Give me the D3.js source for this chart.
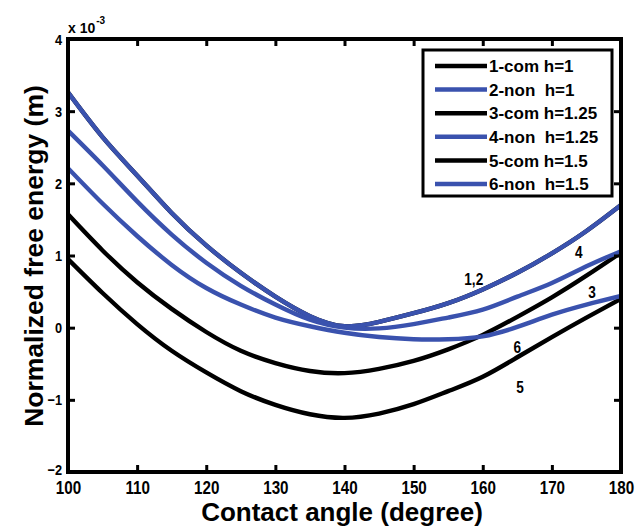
<!DOCTYPE html>
<html>
<head>
<meta charset="utf-8">
<script src="https://cdn.jsdelivr.net/npm/d3@7"></script>
<style>
  html, body { margin: 0; padding: 0; background: #fff; }
  svg { display: block; }
  text { white-space: pre; }
</style>
</head>
<body>
<script>
// ---------- data ----------
const angles = [100,105,110,115,120,125,130,135,140,145,150,155,160,165,170,175,180];
const s1_com_h1    = [3.26,2.64,2.11,1.59,1.14,0.76,0.43,0.16,0.02,0.08,0.20,0.34,0.53,0.76,1.03,1.34,1.70];
const s2_non_h1    = [3.26,2.64,2.11,1.59,1.14,0.76,0.43,0.16,0.02,0.08,0.20,0.34,0.53,0.76,1.03,1.34,1.70];
const s3_com_h125  = [1.57,1.07,0.63,0.26,-0.06,-0.32,-0.49,-0.60,-0.63,-0.57,-0.46,-0.30,-0.10,0.15,0.42,0.72,1.04];
const s4_non_h125  = [2.73,2.25,1.75,1.29,0.90,0.58,0.32,0.11,0.00,-0.01,0.05,0.14,0.25,0.43,0.62,0.85,1.06];
const s5_com_h15   = [0.95,0.48,0.05,-0.32,-0.62,-0.88,-1.07,-1.20,-1.25,-1.19,-1.06,-0.88,-0.68,-0.41,-0.13,0.14,0.40];
const s6_non_h15   = [2.21,1.72,1.27,0.87,0.55,0.32,0.14,0.02,-0.07,-0.13,-0.16,-0.16,-0.12,0.01,0.18,0.32,0.44];

const seriesNames  = ["1-com h=1","2-non  h=1","3-com h=1.25","4-non  h=1.25","5-com h=1.5","6-non  h=1.5"];
const seriesValues = [s1_com_h1, s2_non_h1, s3_com_h125, s4_non_h125, s5_com_h15, s6_non_h15];
const seriesColors = ["#000000","#3a52ae","#000000","#3a52ae","#000000","#3a52ae"];

const xTicks = [100,110,120,130,140,150,160,170,180];
const yTicks = [-2,-1,0,1,2,3,4];

const curveLabels = [
  {text:"1,2", a:158.7, v:0.59},
  {text:"4",   a:173.9, v:0.965},
  {text:"3",   a:175.8, v:0.41},
  {text:"6",   a:165.0, v:-0.35},
  {text:"5",   a:165.4, v:-0.90}
];

// ---------- layout ----------
const W = 636, H = 527;
const L = 68, R = 621, T = 39, B = 472;

const svg = d3.select("body").append("svg").attr("width", W).attr("height", H);

const x = d3.scaleLinear().domain([100,180]).range([L,R]);
const y = d3.scaleLinear().domain([-2,4]).range([B,T]);

svg.append("defs").append("clipPath").attr("id","clip")
  .append("rect").attr("x",L).attr("y",T).attr("width",R-L).attr("height",B-T);

// curves
const line = d3.line().x((d,i)=>x(angles[i])).y(d=>y(d)).curve(d3.curveNatural);
const g = svg.append("g").attr("clip-path","url(#clip)");
seriesValues.forEach((vals,i)=>{
  g.append("path").datum(vals).attr("d",line)
    .attr("fill","none").attr("stroke",seriesColors[i]).attr("stroke-width",4.4)
    .attr("stroke-linejoin","round");
});

// axes (ticks inward on all sides)
const font = "'Liberation Sans',Arial,sans-serif";
const axB = svg.append("g").attr("transform",`translate(0,${B})`)
  .call(d3.axisBottom(x).tickValues(xTicks).tickSize(-7).tickPadding(10).tickFormat(d3.format("d")));
const axT = svg.append("g").attr("transform",`translate(0,${T})`)
  .call(d3.axisTop(x).tickValues(xTicks).tickSize(-7).tickFormat(""));
const axL = svg.append("g").attr("transform",`translate(${L},0)`)
  .call(d3.axisLeft(y).tickValues(yTicks).tickSize(-7).tickPadding(6).tickFormat(d3.format("d")));
const axR = svg.append("g").attr("transform",`translate(${R},0)`)
  .call(d3.axisRight(y).tickValues(yTicks).tickSize(-7).tickFormat(""));

[axB,axT,axL,axR].forEach(a=>{
  a.select(".domain").remove();
  a.selectAll(".tick line").attr("stroke","#000").attr("stroke-width",3);
});
axB.selectAll(".tick text").attr("font-family",font).attr("font-weight","bold")
  .attr("font-size",19).attr("fill","#000").attr("dy","0.62em")
  .attr("y",10).attr("transform","scale(0.8,1)");
axL.selectAll(".tick text").attr("font-family",font).attr("font-weight","bold")
  .attr("font-size",15).attr("fill","#000")
  .attr("x",0).attr("transform","translate(-6,0) scale(0.85,1)")
  .attr("dy",d=> d===-2 ? "0.15em" : "0.34em");

// box
svg.append("rect").attr("x",L).attr("y",T).attr("width",R-L).attr("height",B-T)
  .attr("fill","none").attr("stroke","#000").attr("stroke-width",4);

// exponent label
const ex = svg.append("text").attr("x",L).attr("y",33)
  .attr("font-family",font).attr("font-weight","bold")
  .attr("font-size",14).attr("fill","#000");
ex.append("tspan").text("x 10");
ex.append("tspan").attr("dy",-9).attr("dx",1).attr("font-size",10).text("-3");

// axis titles
svg.append("text").attr("x",342).attr("y",521).attr("text-anchor","middle")
  .attr("font-family",font).attr("font-weight","bold")
  .attr("font-size",26).attr("fill","#000").text("Contact angle (degree)");
svg.append("text").attr("transform","translate(43,256) rotate(-90)").attr("text-anchor","middle")
  .attr("font-family",font).attr("font-weight","bold")
  .attr("font-size",26.5).attr("fill","#000").text("Normalized free energy (m)");

// curve labels
svg.selectAll("text.cl").data(curveLabels).enter().append("text").attr("class","cl")
  .attr("transform",d=>`translate(${x(d.a)},${y(d.v)}) scale(0.85,1)`).attr("text-anchor","middle")
  .attr("font-family",font).attr("font-weight","bold").attr("font-size",16)
  .attr("fill","#000").text(d=>d.text);

// legend
const lg = svg.append("g");
lg.append("rect").attr("x",423).attr("y",50).attr("width",189).attr("height",146)
  .attr("fill","#fff").attr("stroke","#000").attr("stroke-width",3);
const rowY = d3.scaleLinear().domain([0,5]).range([66,184]);
seriesNames.forEach((nm,i)=>{
  lg.append("line").attr("x1",435).attr("x2",487).attr("y1",rowY(i)).attr("y2",rowY(i))
    .attr("stroke",seriesColors[i]).attr("stroke-width",4.5);
  lg.append("text").attr("x",489).attr("y",rowY(i)).attr("dy","0.36em")
    .attr("font-family",font).attr("font-weight","bold")
    .attr("font-size",17).attr("fill","#000").text(nm);
});
</script>
</body>
</html>
